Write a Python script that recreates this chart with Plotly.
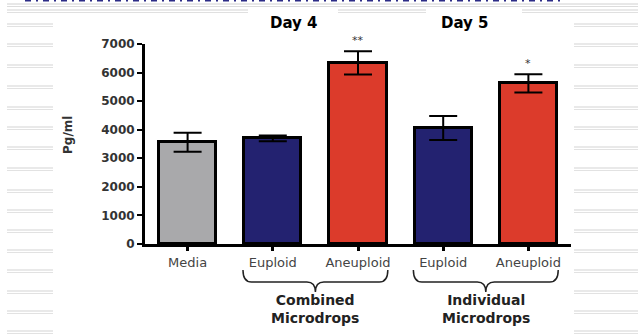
import plotly.graph_objects as go

# ---- data ----
categories = ["Media", "Euploid", "Aneuploid", "Euploid", "Aneuploid"]
values = [3560, 3700, 6340, 4060, 5620]          # Pg/ml
errors = [330, 100, 410, 420, 320]               # SEM
stars = ["", "", "**", "", "*"]
bar_colors = ["#a9a9ab", "#232270", "#dc3b2b", "#232270", "#dc3b2b"]
y_ticks = [0, 1000, 2000, 3000, 4000, 5000, 6000, 7000]
day_labels = ["Day 4", "Day 5"]
group_labels = ["Combined<br>Microdrops", "Individual<br>Microdrops"]
group_members = [[1, 2], [3, 4]]

W, H = 638, 334
ML, MR, MT, MB = 145, 67, 44, 90
XR = [-0.5, 4.5]
PW, PH = W - ML - MR, H - MT - MB

def px_x(p):
    return (p - ML) / PW

def px_y(p):
    return (H - MB - p) / PH

xs = list(range(len(categories)))

fig = go.Figure()
fig.add_trace(go.Bar(
    x=xs, y=values, width=0.67,
    marker=dict(color=bar_colors, line=dict(color="black", width=3)),
    error_y=dict(type="data", array=errors, color="black", thickness=2, width=14),
    showlegend=False,
))

shapes = []

# striped slide background on the margins
stripe_rows = [25, 45, 66, 87, 108, 128, 148, 169, 191, 211, 231, 251, 271, 292, 312, 332]
for r in stripe_rows:
    for off, col in [(-1, "#d3d3d3"), (1.5, "#e2e2e2")]:
        yy = px_y(r + off)
        shapes.append(dict(type="line", xref="paper", yref="paper",
                           x0=px_x(7), x1=px_x(53), y0=yy, y1=yy,
                           line=dict(color=col, width=1), layer="below"))
        shapes.append(dict(type="line", xref="paper", yref="paper",
                           x0=px_x(574), x1=px_x(638), y0=yy, y1=yy,
                           line=dict(color=col, width=1), layer="below"))
for r, col in [(4, "#d0d0d0"), (6.5, "#dcdcdc")]:
    yy = px_y(r)
    shapes.append(dict(type="line", xref="paper", yref="paper",
                       x0=px_x(7), x1=px_x(638), y0=yy, y1=yy,
                       line=dict(color=col, width=1), layer="below"))
for r, col in [(10, "#d3d3d3"), (12.5, "#e0e0e0")]:
    yy = px_y(r)
    for a, b in [(7, 248), (338, 426), (522, 638)]:
        shapes.append(dict(type="line", xref="paper", yref="paper",
                           x0=px_x(a), x1=px_x(b), y0=yy, y1=yy,
                           line=dict(color=col, width=1), layer="below"))
# clipped heading line of the slide
shapes.append(dict(type="line", xref="paper", yref="paper",
                   x0=px_x(25), x1=px_x(560), y0=px_y(0.5), y1=px_y(0.5),
                   line=dict(color="#2b2b86", width=2, dash="6px,5px,2px,5px")))

# curly braces under the grouped bars
y_top, y_mid, y_bot = px_y(270), px_y(282), px_y(292)
for members in group_members:
    x0 = members[0] - 0.35
    x1 = members[-1] + 0.35
    xm = (members[0] + members[-1]) / 2
    d = 0.1
    path = (f"M {x0},{y_top} Q {x0},{y_mid} {x0 + d},{y_mid} "
            f"L {xm - d},{y_mid} Q {xm},{y_mid} {xm},{y_bot} "
            f"Q {xm},{y_mid} {xm + d},{y_mid} "
            f"L {x1 - d},{y_mid} Q {x1},{y_mid} {x1},{y_top}")
    shapes.append(dict(type="path", xref="x", yref="paper", path=path,
                       line=dict(color="#222222", width=1.5)))

annotations = []
# significance stars
for i, s in enumerate(stars):
    if s:
        annotations.append(dict(x=i, y=values[i] + errors[i], xref="x", yref="y",
                                text=s, showarrow=False, yanchor="middle", yshift=11,
                                font=dict(family="DejaVu Sans", size=11, color="#333333")))
# day headers
for label, members in zip(day_labels, group_members):
    xm = (members[0] + members[-1]) / 2
    annotations.append(dict(x=xm - 0.25, y=px_y(23), xref="x", yref="paper",
                            xanchor="center", yanchor="middle",
                            text=f"<b>{label}</b>", showarrow=False,
                            bgcolor="white", borderpad=6,
                            font=dict(family="DejaVu Sans", size=15, color="black")))
# group labels
for label, members in zip(group_labels, group_members):
    xm = (members[0] + members[-1]) / 2
    annotations.append(dict(x=xm, y=px_y(309), xref="x", yref="paper",
                            xanchor="center", yanchor="middle",
                            text=f"<b>{label}</b>", showarrow=False,
                            font=dict(family="DejaVu Sans", size=14, color="#222222")))
# y-axis title
annotations.append(dict(x=px_x(68), y=px_y(135), xref="paper", yref="paper",
                        xanchor="center", yanchor="middle",
                        text="<b>Pg/ml</b>", textangle=-90, showarrow=False,
                        font=dict(family="DejaVu Sans", size=12, color="#333333")))

fig.update_layout(
    width=W, height=H,
    margin=dict(l=ML, r=MR, t=MT, b=MB),
    paper_bgcolor="white", plot_bgcolor="white",
    shapes=shapes, annotations=annotations,
    bargap=0,
    xaxis=dict(range=XR, tickvals=xs, ticktext=categories,
               showline=True, linecolor="black", linewidth=3,
               ticks="outside", ticklen=4, tickwidth=3, tickcolor="black",
               showgrid=False, zeroline=False, fixedrange=True,
               tickfont=dict(family="DejaVu Sans", size=13, color="#444444")),
    yaxis=dict(range=[0, 7000], tickvals=y_ticks,
               ticktext=[f"<b>{v}</b>" for v in y_ticks],
               showline=True, linecolor="black", linewidth=3,
               ticks="outside", ticklen=5, tickwidth=2, tickcolor="black",
               showgrid=False, zeroline=False, fixedrange=True,
               tickfont=dict(family="DejaVu Sans", size=12, color="#333333")),
)

fig.write_html("out.html", config={"displayModeBar": False})
